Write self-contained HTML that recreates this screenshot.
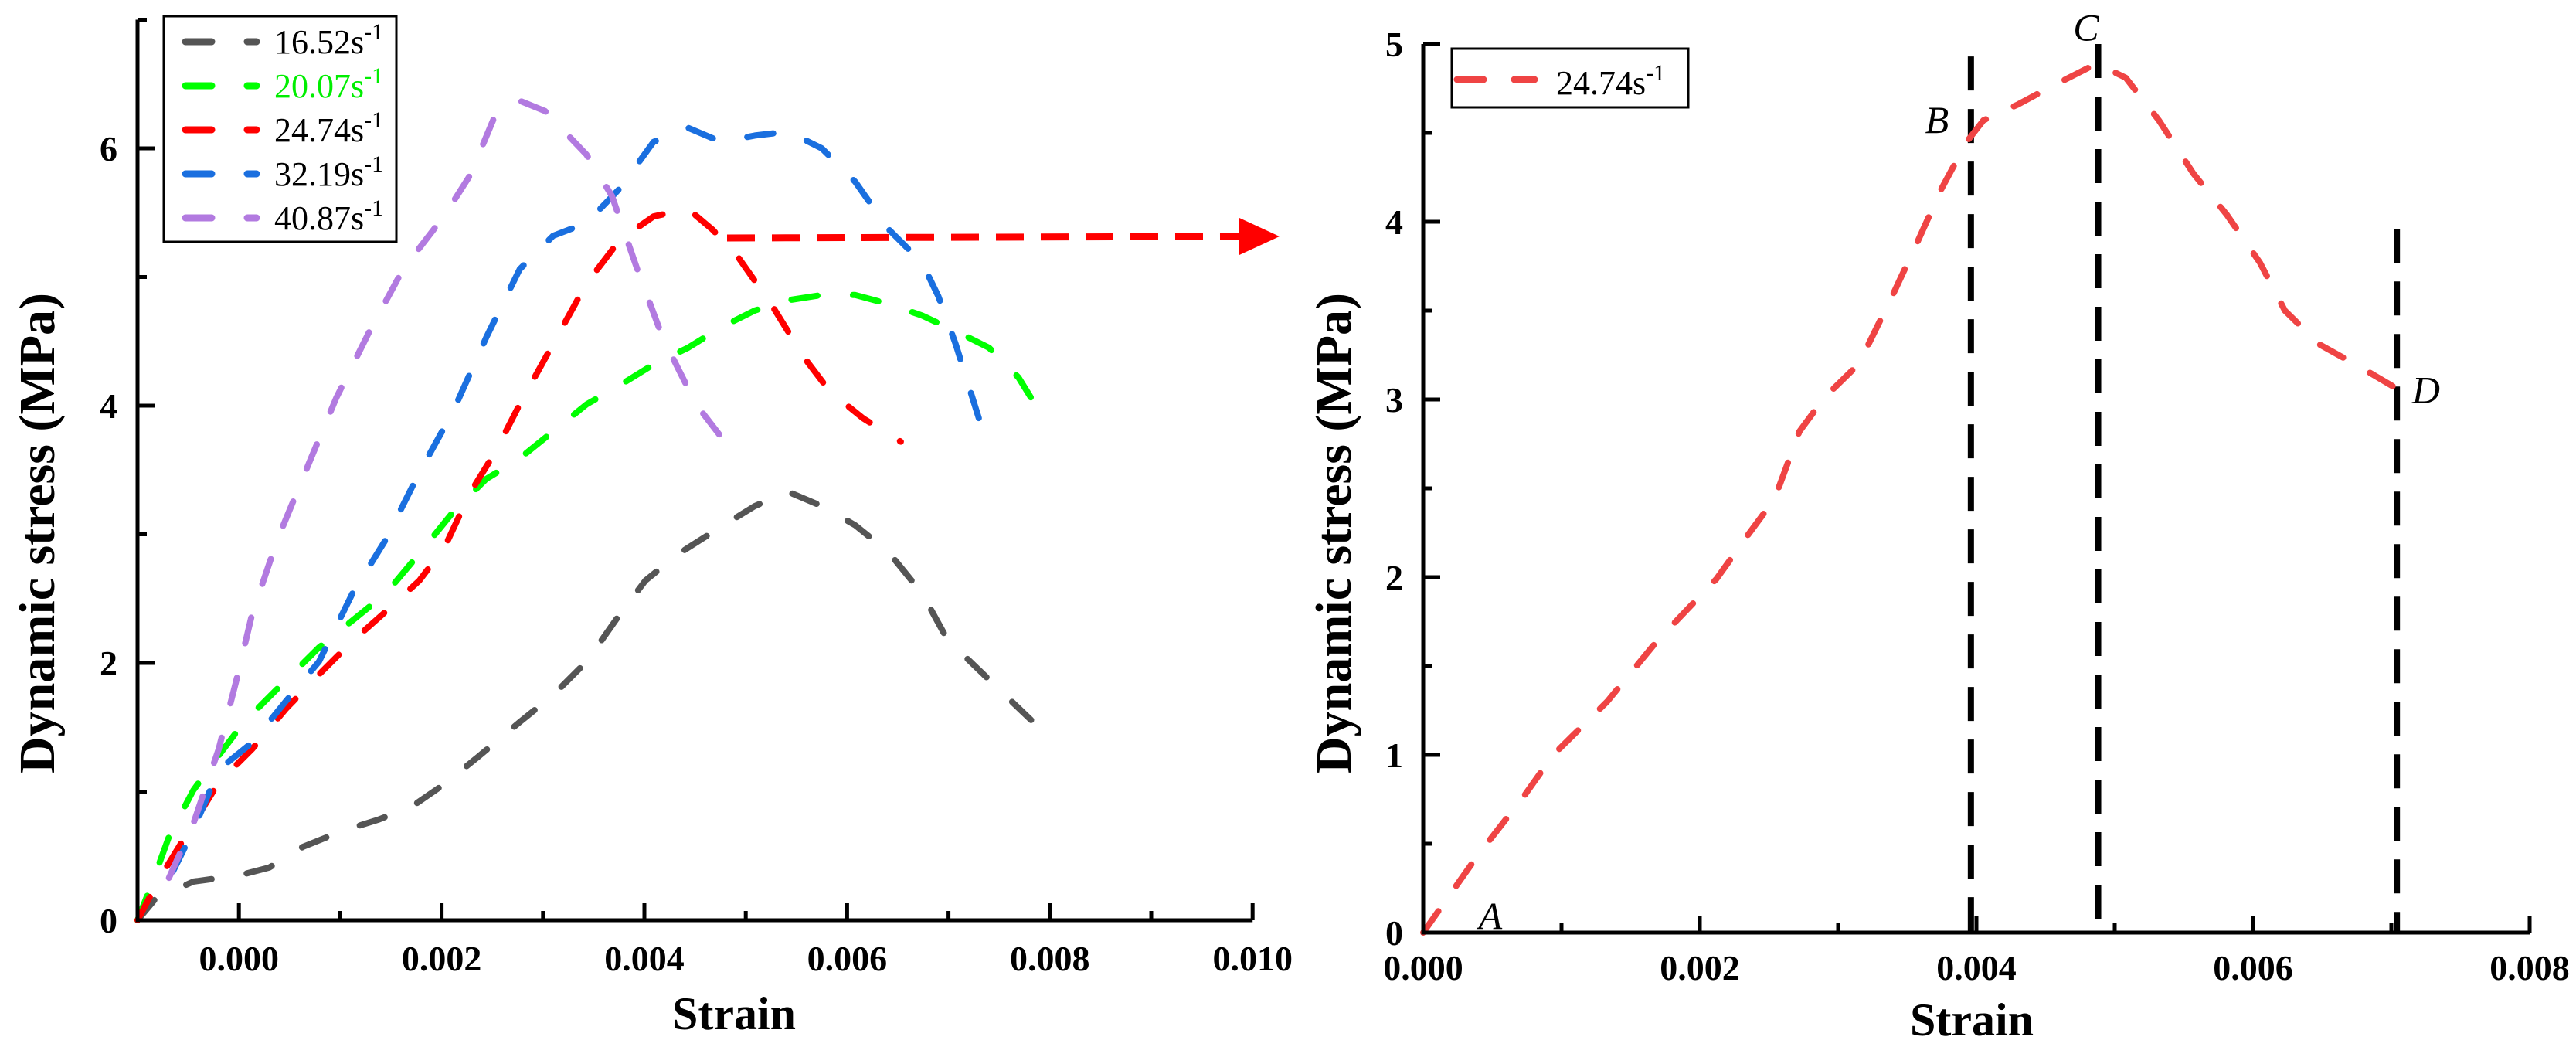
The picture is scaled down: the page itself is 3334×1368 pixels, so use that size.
<!DOCTYPE html>
<html><head><meta charset="utf-8"><style>
html,body{margin:0;padding:0;background:#fff;}
svg{display:block;}
text{font-family:"Liberation Serif",serif;}
.tk{font-weight:bold;font-size:46px;}
.ttl{font-weight:bold;font-size:60px;}
.yttl{font-weight:bold;font-size:66px;}
.lg{font-size:44px;}
.lt{font-size:50px;font-style:italic;}
</style></head><body>
<svg id="chart" width="3334" height="1368" viewBox="0 0 3334 1368" xmlns="http://www.w3.org/2000/svg">
<g id="left"></g>
<g id="right"></g>
</svg>
<script>
// Left chart data
const leftXTicks = [0.000, 0.002, 0.004, 0.006, 0.008, 0.010];
const leftYTicks = [0, 2, 4, 6];
const leftNames = ["16.52", "20.07", "24.74", "32.19", "40.87"];
const leftColors = ["#555555", "#00ff00", "#ff0000", "#1a6fdf", "#b27ae0"];
const s1652x = [-0.001,-0.00082,-0.00045,0.00001,0.0003,0.00063,0.00104,0.00137,0.0017,0.00203,0.00236,0.00277,0.0031,0.00343,0.00376,0.00401,0.00434,0.00476,0.00509,0.00542,0.00575,0.00608,0.00641,0.00674,0.00699,0.0074,0.00765,0.00789];
const s1652y = [0,0.17,0.30,0.35,0.41,0.57,0.70,0.78,0.88,1.06,1.27,1.54,1.75,2.01,2.38,2.64,2.85,3.06,3.22,3.33,3.22,3.07,2.86,2.54,2.18,1.87,1.68,1.50];
const s2007x = [-0.001,-0.00086,-0.00069,-0.00045,-0.0002,0.00005,0.00038,0.00079,0.00112,0.00145,0.00178,0.00211,0.00244,0.00277,0.0031,0.00343,0.00376,0.00409,0.00443,0.00476,0.00509,0.00542,0.00575,0.00608,0.00641,0.00674,0.00707,0.0074,0.00769,0.00798];
const s2007y = [0,0.28,0.65,1.01,1.28,1.54,1.80,2.12,2.33,2.54,2.85,3.17,3.43,3.59,3.80,4.01,4.16,4.32,4.45,4.61,4.74,4.82,4.86,4.86,4.79,4.70,4.58,4.45,4.22,3.85];
const s2474x = [-0.001,-0.00078,-0.00053,-0.0002,0.00013,0.00046,0.00079,0.00112,0.00145,0.00178,0.00203,0.00228,0.00253,0.00277,0.0031,0.00343,0.00376,0.00409,0.00443,0.00467,0.00492,0.00525,0.00558,0.00583,0.00616,0.00653];
const s2474y = [0,0.33,0.65,1.07,1.33,1.64,1.91,2.17,2.40,2.64,2.90,3.32,3.64,4.01,4.48,4.95,5.29,5.47,5.53,5.37,5.16,4.79,4.37,4.11,3.90,3.72];
const s3219x = [-0.00065,-0.00045,-0.0002,0.00013,0.00046,0.00079,0.00112,0.00145,0.00178,0.00211,0.00244,0.00277,0.0031,0.00343,0.00376,0.00409,0.00443,0.00476,0.00509,0.00542,0.00575,0.00608,0.00641,0.00674,0.0069,0.00707,0.00732];
const s3219y = [0.38,0.70,1.17,1.38,1.70,2.01,2.54,2.96,3.48,3.95,4.53,5.06,5.32,5.42,5.69,6.05,6.16,6.05,6.10,6.13,6.0,5.74,5.37,5.11,4.85,4.48,3.85];
const s4087x = [-0.00069,-0.00045,-0.0002,-0.00003,0.00013,0.00038,0.00071,0.00096,0.00129,0.00162,0.00203,0.00228,0.00253,0.00277,0.00302,0.00343,0.00368,0.00393,0.00418,0.00451,0.00492];
const s4087y = [0.33,0.75,1.33,1.85,2.38,2.96,3.59,4.06,4.58,5.06,5.48,5.79,6.26,6.37,6.29,5.95,5.63,5.06,4.53,4.01,3.59];
const leftXs = [s1652x, s2007x, s2474x, s3219x, s4087x];
const leftYs = [s1652y, s2007y, s2474y, s3219y, s4087y];

// Right chart data
const rightXTicks = [0.000, 0.002, 0.004, 0.006, 0.008];
const rightYTicks = [0, 1, 2, 3, 4, 5];
const r2474x = [0,0.00039,0.00073,0.00094,0.00133,0.00169,0.00212,0.00236,0.00254,0.00272,0.0029,0.00315,0.00339,0.00357,0.00375,0.00393,0.00405,0.0043,0.00454,0.00487,0.00508,0.00532,0.00557,0.00581,0.00605,0.00623,0.00648,0.00678,0.00702];
const r2474y = [0,0.43,0.77,1.0,1.30,1.64,1.99,2.25,2.44,2.82,3.01,3.2,3.58,3.88,4.19,4.45,4.57,4.66,4.76,4.89,4.81,4.57,4.27,4.04,3.77,3.50,3.31,3.18,3.07];
const stageX = [0.00396, 0.00488, 0.00704];
const stageTop = [4.93, 5.0, 3.96];
const pointNames = ["A", "B", "C", "D"];
const pointX = [0.0004, 0.0038, 0.0047, 0.00715];
const pointY = [0.02, 4.5, 5.02, 2.98];

const NS = "http://www.w3.org/2000/svg";
function mk(parent, tag, attrs, txt) {
  const e = document.createElementNS(NS, tag);
  for (const k in attrs) e.setAttribute(k, attrs[k]);
  if (txt !== undefined) e.textContent = txt;
  parent.appendChild(e);
  return e;
}

// ===== LEFT =====
const L = document.getElementById("left");
const lx = v => 178 + (v + 0.001) / 0.001 * 131.2;
const ly = v => 1191 - v * 166.5;
for (let i = 0; i < leftXs.length; i++) {
  const d = leftXs[i].map((x, j) => (j ? "L" : "M") + lx(x).toFixed(1) + " " + ly(leftYs[i][j]).toFixed(1)).join(" ");
  const p = mk(L, "path", {d: d, fill: "none", stroke: leftColors[i], "stroke-width": 8, "stroke-dasharray": "34 46", "stroke-linecap": "round", "stroke-linejoin": "round"});
  
  
}
let ax = mk(L, "path", {d: `M178 ${ly(7)} L178 1191 L${lx(0.010)} 1191`, fill: "none", stroke: "#000", "stroke-width": 5});


for (let v = -0.001; v <= 0.0101; v += 0.001) {
  const major = Math.abs(Math.round(v * 1000) % 2) === 0;
  const t = mk(L, "line", {x1: lx(v), x2: lx(v), y1: 1191, y2: 1191 - (major ? 22 : 12), stroke: "#000", "stroke-width": 5});
  
  
}
leftXTicks.forEach(v => {
  const t = mk(L, "text", {x: lx(v), y: 1256, "text-anchor": "middle", class: "tk"}, v.toFixed(3));
  
  
});
for (let v = 1; v <= 7; v++) {
  const major = v % 2 === 0;
  const t = mk(L, "line", {x1: 178, x2: 178 + (major ? 22 : 12), y1: ly(v), y2: ly(v), stroke: "#000", "stroke-width": 5});
  
  
}
leftYTicks.forEach(v => {
  const t = mk(L, "text", {x: 152, y: ly(v) + 16, "text-anchor": "end", class: "tk"}, String(v));
  
  
});
let tt = mk(L, "text", {x: 950, y: 1332, "text-anchor": "middle", class: "ttl"}, "Strain");


tt = mk(L, "text", {x: 0, y: 0, "text-anchor": "middle", class: "yttl", transform: "translate(70 690) rotate(-90)"}, "Dynamic stress (MPa)");


const lgBox = mk(L, "rect", {x: 212, y: 21, width: 301, height: 292, fill: "#fff", stroke: "#000", "stroke-width": 3});


leftNames.forEach((n, i) => {
  const y = 54 + i * 57;
  const g = mk(L, "g", {});
  
  
  mk(g, "line", {x1: 240, x2: 332, y1: y, y2: y, stroke: leftColors[i], "stroke-width": 9, "stroke-dasharray": "34 46", "stroke-linecap": "round"});
  const t = mk(g, "text", {x: 355, y: y + 15, class: "lg", fill: i === 1 ? "#00ee00" : "#000"}, n + "s");
  mk(t, "tspan", {dy: -18, "font-size": "30"}, "-1");
});
const arr = mk(L, "g", {});


mk(arr, "line", {x1: 941, y1: 308, x2: 1610, y2: 306, stroke: "#ff0000", "stroke-width": 9, "stroke-dasharray": "36 22"});
mk(arr, "polygon", {points: "1604,282 1656,306 1604,330", fill: "#ff0000"});

// ===== RIGHT =====
const R = document.getElementById("right");
const rx = v => 1842 + v / 0.001 * 179;
const ry = v => 1207 - v * 230;
stageX.forEach((v, i) => {
  const l = mk(R, "line", {x1: rx(v), x2: rx(v), y1: ry(stageTop[i]), y2: 1207, stroke: "#000", "stroke-width": 8, "stroke-dasharray": "44 24"});
  
  
});
{
  const d = r2474x.map((x, j) => (j ? "L" : "M") + rx(x).toFixed(1) + " " + ry(r2474y[j]).toFixed(1)).join(" ");
  const p = mk(R, "path", {d: d, fill: "none", stroke: "#ef4444", "stroke-width": 8, "stroke-dasharray": "34 40", "stroke-linecap": "round", "stroke-linejoin": "round"});
  
  
}
ax = mk(R, "path", {d: `M1842 ${ry(5)} L1842 1207 L${rx(0.008)} 1207`, fill: "none", stroke: "#000", "stroke-width": 5});


for (let k = 1; k <= 8; k++) {
  const v = k * 0.001;
  const major = k % 2 === 0;
  const t = mk(R, "line", {x1: rx(v), x2: rx(v), y1: 1207, y2: 1207 - (major ? 22 : 12), stroke: "#000", "stroke-width": 5});
  
  
}
rightXTicks.forEach(v => {
  const t = mk(R, "text", {x: rx(v), y: 1268, "text-anchor": "middle", class: "tk"}, v.toFixed(3));
  
  
});
for (let k = 1; k <= 10; k++) {
  const v = k * 0.5;
  const major = k % 2 === 0;
  const t = mk(R, "line", {x1: 1842, x2: 1842 + (major ? 22 : 12), y1: ry(v), y2: ry(v), stroke: "#000", "stroke-width": 5});
  
  
}
rightYTicks.forEach(v => {
  const t = mk(R, "text", {x: 1816, y: ry(v) + 16, "text-anchor": "end", class: "tk"}, String(v));
  
  
});
tt = mk(R, "text", {x: 2552, y: 1340, "text-anchor": "middle", class: "ttl"}, "Strain");


tt = mk(R, "text", {x: 0, y: 0, "text-anchor": "middle", class: "yttl", transform: "translate(1748 690) rotate(-90)"}, "Dynamic stress (MPa)");


pointNames.forEach((n, i) => {
  const t = mk(R, "text", {x: rx(pointX[i]), y: ry(pointY[i]), class: "lt", "text-anchor": i === 1 ? "end" : "start"}, n);
  
  
});
const rg = mk(R, "g", {});


mk(rg, "rect", {x: 1879, y: 63, width: 306, height: 76, fill: "#fff", stroke: "#000", "stroke-width": 3});
mk(rg, "line", {x1: 1886, x2: 1986, y1: 103, y2: 103, stroke: "#ef4444", "stroke-width": 9, "stroke-dasharray": "34 40", "stroke-linecap": "round"});
const rt = mk(rg, "text", {x: 2014, y: 122, class: "lg"}, "24.74s");
mk(rt, "tspan", {dy: -18, "font-size": "30"}, "-1");
</script>
</body></html>
